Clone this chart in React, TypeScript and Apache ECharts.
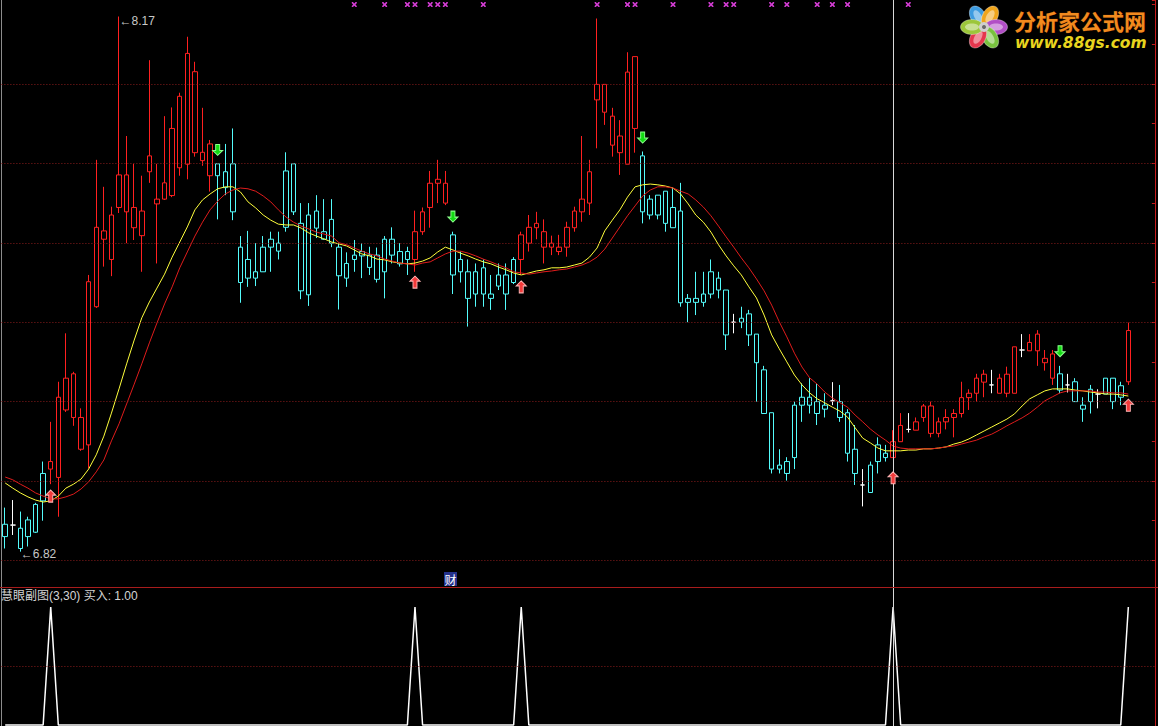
import React, { useEffect, useRef } from "react";
import * as echarts from "echarts";

// ---------------- data ----------------
const SLOT_COUNT = 152; // 149 trading days + 3 empty slots on the right
const categories = Array.from({ length: SLOT_COUNT }, (_, i) => `D${i + 1}`);

const opens = [
  6.860, 6.889, 6.881, 6.860, 6.871, 6.950, 7.030, 7.009, 7.179, 7.270,
  7.160, 7.091, 7.439, 7.630, 7.558, 7.689, 7.771, 7.638, 7.680, 7.819,
  7.710, 7.710, 7.719, 7.969, 7.798, 8.031, 7.828, 7.849, 7.769, 7.779,
  7.799, 7.589, 7.511, 7.527, 7.527, 7.609, 7.579, 7.639, 7.799, 7.649,
  7.469, 7.680, 7.609, 7.599, 7.589, 7.511, 7.558, 7.567, 7.538, 7.569,
  7.527, 7.609, 7.547, 7.578, 7.558, 7.628, 7.689, 7.760, 7.750, 7.620,
  7.527, 7.527, 7.471, 7.537, 7.471, 7.491, 7.519, 7.500, 7.558, 7.599,
  7.638, 7.628, 7.589, 7.578, 7.589, 7.638, 7.678, 7.700, 7.960, 7.999,
  7.919, 7.869, 7.798, 8.069, 7.819, 7.710, 7.670, 7.730, 7.638, 7.680,
  7.450, 7.450, 7.450, 7.471, 7.511, 7.481, 7.400, 7.400, 7.421, 7.370,
  7.280, 7.172, 7.030, 7.049, 7.059, 7.191, 7.211, 7.200, 7.181, 7.202,
  7.200, 7.172, 7.080, 6.990, 6.971, 7.049, 7.070, 7.059, 7.099, 7.130,
  7.128, 7.160, 7.189, 7.120, 7.149, 7.160, 7.170, 7.210, 7.221, 7.269,
  7.242, 7.221, 7.269, 7.221, 7.330, 7.328, 7.370, 7.298, 7.320, 7.270,
  7.242, 7.250, 7.181, 7.200, 7.219, 7.219, 7.259, 7.211, 7.250,
];
const closes = [
  6.891, 6.889, 6.830, 6.902, 6.941, 7.019, 7.049, 7.211, 7.259, 7.160,
  7.080, 7.502, 7.639, 7.609, 7.670, 7.771, 7.678, 7.689, 7.618, 7.779,
  7.698, 7.751, 7.888, 7.789, 8.077, 7.827, 7.807, 7.769, 7.799, 7.739,
  7.678, 7.500, 7.558, 7.511, 7.589, 7.589, 7.599, 7.781, 7.678, 7.479,
  7.670, 7.637, 7.628, 7.659, 7.517, 7.548, 7.569, 7.578, 7.569, 7.508,
  7.609, 7.569, 7.578, 7.558, 7.628, 7.678, 7.750, 7.750, 7.700, 7.519,
  7.558, 7.460, 7.527, 7.471, 7.460, 7.519, 7.471, 7.558, 7.620, 7.639,
  7.649, 7.589, 7.599, 7.589, 7.639, 7.680, 7.710, 7.779, 7.999, 7.929,
  7.846, 7.827, 8.030, 7.888, 7.678, 7.670, 7.720, 7.649, 7.689, 7.449,
  7.460, 7.460, 7.471, 7.527, 7.481, 7.368, 7.400, 7.410, 7.368, 7.298,
  7.170, 7.030, 7.040, 7.019, 7.191, 7.211, 7.191, 7.170, 7.191, 7.202,
  7.160, 7.070, 7.019, 6.990, 7.040, 7.091, 7.059, 7.099, 7.140, 7.130,
  7.149, 7.189, 7.120, 7.149, 7.160, 7.170, 7.210, 7.221, 7.259, 7.249,
  7.242, 7.259, 7.221, 7.338, 7.330, 7.349, 7.328, 7.309, 7.259, 7.229,
  7.242, 7.200, 7.191, 7.231, 7.219, 7.259, 7.200, 7.240, 7.379,
];
const highs = [
  6.933, 6.952, 6.923, 6.910, 6.945, 7.049, 7.149, 7.250, 7.372, 7.275,
  7.183, 7.519, 7.809, 7.741, 7.691, 8.170, 7.869, 7.799, 7.769, 8.060,
  7.799, 7.919, 7.941, 7.978, 8.119, 8.056, 7.940, 7.859, 7.799, 7.849,
  7.888, 7.617, 7.630, 7.599, 7.617, 7.628, 7.628, 7.828, 7.799, 7.700,
  7.700, 7.720, 7.710, 7.710, 7.599, 7.576, 7.607, 7.599, 7.590, 7.588,
  7.617, 7.639, 7.599, 7.590, 7.681, 7.689, 7.781, 7.809, 7.781, 7.628,
  7.578, 7.558, 7.548, 7.558, 7.519, 7.548, 7.548, 7.564, 7.628, 7.670,
  7.678, 7.659, 7.618, 7.620, 7.653, 7.691, 7.869, 7.809, 8.165, 8.000,
  7.940, 7.909, 8.080, 8.069, 7.830, 7.720, 7.720, 7.730, 7.739, 7.751,
  7.471, 7.527, 7.527, 7.558, 7.527, 7.481, 7.421, 7.439, 7.431, 7.370,
  7.290, 7.172, 7.080, 7.060, 7.200, 7.246, 7.259, 7.246, 7.221, 7.249,
  7.242, 7.181, 7.141, 7.030, 7.049, 7.110, 7.091, 7.128, 7.171, 7.171,
  7.160, 7.194, 7.200, 7.160, 7.181, 7.181, 7.250, 7.231, 7.270, 7.280,
  7.280, 7.270, 7.288, 7.338, 7.370, 7.370, 7.380, 7.330, 7.330, 7.290,
  7.270, 7.259, 7.211, 7.242, 7.231, 7.259, 7.259, 7.250, 7.399,
];
const lows = [
  6.830, 6.864, 6.822, 6.835, 6.869, 6.900, 6.992, 6.910, 7.174, 7.139,
  7.076, 7.032, 7.436, 7.540, 7.516, 7.675, 7.599, 7.607, 7.527, 7.751,
  7.548, 7.708, 7.715, 7.769, 7.760, 7.817, 7.794, 7.729, 7.659, 7.720,
  7.657, 7.449, 7.489, 7.491, 7.527, 7.527, 7.558, 7.628, 7.670, 7.458,
  7.441, 7.612, 7.607, 7.589, 7.432, 7.489, 7.527, 7.511, 7.519, 7.500,
  7.460, 7.548, 7.540, 7.519, 7.527, 7.620, 7.638, 7.700, 7.695, 7.471,
  7.500, 7.389, 7.439, 7.439, 7.431, 7.481, 7.431, 7.496, 7.519, 7.578,
  7.609, 7.548, 7.569, 7.569, 7.565, 7.628, 7.653, 7.670, 7.838, 7.897,
  7.817, 7.771, 7.798, 7.827, 7.649, 7.659, 7.659, 7.628, 7.638, 7.439,
  7.400, 7.418, 7.439, 7.460, 7.460, 7.330, 7.372, 7.385, 7.340, 7.200,
  7.170, 7.019, 7.019, 7.001, 7.030, 7.149, 7.170, 7.141, 7.160, 7.191,
  7.149, 7.049, 6.990, 6.936, 6.971, 7.019, 7.049, 7.059, 7.099, 7.122,
  7.128, 7.149, 7.110, 7.110, 7.130, 7.110, 7.160, 7.179, 7.200, 7.211,
  7.221, 7.221, 7.211, 7.221, 7.312, 7.328, 7.290, 7.278, 7.242, 7.221,
  7.223, 7.200, 7.149, 7.170, 7.183, 7.219, 7.181, 7.191, 7.242,
];
// candle colour regime: r = red, c = cyan, w = white (doji)
const regime = (
  "cwccccrrrr" + "rrrrrrrrrr" + "rrrrrrrrcc" + "cccccccccc" + "cccccccccc" +
  "ccccrrrrrc" + "ccccccccrr" + "rrrrrrrrrr" + "rrrrcccccc" + "ccccccwccc" +
  "cccccccccw" + "cccwcccrrw" + "rrrrrrrrrr" + "wrrrwrrrrc" + "wcccwcccr"
).split("");

const yellowLine = [
  6.995, 6.982, 6.970, 6.960, 6.952, 6.947, 6.950, 6.962, 6.982, 6.992,
  7.005, 7.030, 7.066, 7.113, 7.171, 7.232, 7.295, 7.355, 7.411, 7.451,
  7.486, 7.521, 7.564, 7.602, 7.640, 7.683, 7.708, 7.723, 7.736, 7.741,
  7.741, 7.728, 7.703, 7.688, 7.670, 7.657, 7.647, 7.645, 7.645, 7.637,
  7.625, 7.617, 7.610, 7.602, 7.597, 7.592, 7.582, 7.572, 7.567, 7.559,
  7.557, 7.552, 7.549, 7.547, 7.549, 7.554, 7.562, 7.577, 7.589, 7.582,
  7.574, 7.567, 7.559, 7.552, 7.547, 7.539, 7.532, 7.524, 7.519, 7.524,
  7.529, 7.532, 7.537, 7.537, 7.539, 7.544, 7.549, 7.564, 7.587, 7.630,
  7.657, 7.683, 7.715, 7.741, 7.746, 7.748, 7.746, 7.743, 7.738, 7.723,
  7.698, 7.670, 7.652, 7.627, 7.595, 7.567, 7.542, 7.519, 7.489, 7.461,
  7.418, 7.368, 7.333, 7.300, 7.267, 7.242, 7.222, 7.207, 7.197, 7.186,
  7.176, 7.161, 7.134, 7.108, 7.096, 7.083, 7.076, 7.076, 7.076, 7.078,
  7.078, 7.081, 7.081, 7.083, 7.086, 7.093, 7.098, 7.106, 7.116, 7.126,
  7.136, 7.146, 7.156, 7.169, 7.189, 7.207, 7.217, 7.227, 7.232, 7.232,
  7.232, 7.229, 7.227, 7.224, 7.222, 7.219, 7.219, 7.217, 7.214,
];
const redLine = [
  7.010, 7.003, 6.992, 6.982, 6.970, 6.962, 6.955, 6.955, 6.960, 6.967,
  6.980, 6.998, 7.023, 7.053, 7.101, 7.144, 7.194, 7.244, 7.295, 7.348,
  7.398, 7.446, 7.489, 7.537, 7.577, 7.617, 7.652, 7.683, 7.705, 7.723,
  7.733, 7.738, 7.736, 7.730, 7.718, 7.703, 7.683, 7.665, 7.652, 7.642,
  7.635, 7.627, 7.622, 7.617, 7.600, 7.595, 7.587, 7.579, 7.572, 7.567,
  7.559, 7.554, 7.549, 7.547, 7.544, 7.549, 7.552, 7.562, 7.572, 7.579,
  7.579, 7.574, 7.567, 7.559, 7.552, 7.544, 7.537, 7.527, 7.524, 7.521,
  7.524, 7.527, 7.529, 7.532, 7.534, 7.539, 7.544, 7.552, 7.564, 7.584,
  7.612, 7.640, 7.668, 7.693, 7.718, 7.733, 7.741, 7.741, 7.738, 7.730,
  7.723, 7.708, 7.690, 7.668, 7.642, 7.615, 7.589, 7.562, 7.537, 7.509,
  7.479, 7.443, 7.401, 7.363, 7.322, 7.287, 7.260, 7.244, 7.224, 7.209,
  7.197, 7.186, 7.166, 7.149, 7.131, 7.116, 7.103, 7.088, 7.083, 7.081,
  7.081, 7.081, 7.081, 7.083, 7.086, 7.088, 7.093, 7.098, 7.103, 7.111,
  7.118, 7.128, 7.139, 7.149, 7.159, 7.171, 7.186, 7.202, 7.212, 7.222,
  7.227, 7.227, 7.227, 7.227, 7.224, 7.224, 7.222, 7.222, 7.219,
];

// buy signals (red up arrows + spikes in the lower panel)
const buyIndex = [6, 54, 68, 117, 148];
const buyArrowLevel = [6.962, 7.501, 7.489, 7.008, 7.191];
// sell signals (green down arrows)
const sellIndex = [28, 59, 84, 139];
const sellArrowLevel = [7.834, 7.666, 7.865, 7.327];
// magenta markers along the top edge
const markerIndex = [46, 50, 53, 54, 56, 57, 58, 63, 78, 82, 83, 88, 93, 95, 96, 101, 103, 107, 109, 111, 119];
const markerLevel = 8.2;

const gridLevels = [6.8, 7.0, 7.2, 7.4, 7.6, 7.8, 8.0];
const cursorIndex = 117;
const subTitle = "慧眼副图(3,30) 买入: 1.00";

// ---------------- styling ----------------
const RED = "#ff2020";
const CYAN = "#54fcfc";
const WHITE = "#ffffff";
const PRICE_MIN = 6.733;
const PRICE_MAX = 8.2116;

const UP_ARROW = "path://M5,0 L10,5 L7,5 L7,12 L3,12 L3,5 L0,5 Z";
const DOWN_ARROW = "path://M3,0 L7,0 L7,6 L10,6 L5,11 L0,6 L3,6 Z";
const X_MARK =
  "path://M0,0 L1.2,0 L2.5,1.3 L3.8,0 L5,0 L5,1.2 L3.7,2.5 L5,3.8 L5,5 L3.8,5 L2.5,3.7 L1.2,5 L0,5 L0,3.8 L1.3,2.5 L0,1.2 Z";

function buildOption() {
  const candleData = opens.map((o, i) => {
    const k = regime[i];
    const col = k === "r" ? RED : k === "c" ? CYAN : WHITE;
    return {
      value: [o, closes[i], lows[i], highs[i]],
      itemStyle: {
        color: k === "w" ? WHITE : "#000000",
        color0: col,
        borderColor: col,
        borderColor0: col,
        borderWidth: 1,
      },
    };
  });

  let hiIdx = 0;
  let loIdx = 0;
  highs.forEach((h, i) => { if (h > highs[hiIdx]) hiIdx = i; });
  lows.forEach((l, i) => { if (l < lows[loIdx]) loIdx = i; });

  const signal = opens.map((_, i) => (buyIndex.includes(i) ? 1 : 0));

  const labelStyle = {
    color: "#c8c8c8",
    fontSize: 12,
    fontFamily: "'Liberation Sans', Arial, sans-serif",
  };

  const petals = [
    { a: -30, c: "#3d9be0" },
    { a: 30, c: "#f0a51c" },
    { a: 90, c: "#b24ec6" },
    { a: 150, c: "#78c23e" },
    { a: 210, c: "#e5364d" },
    { a: 270, c: "#9cc63a" },
  ];
  const petalEls: any[] = [];
  petals.forEach((p) => {
    const rot = (-p.a * Math.PI) / 180;
    petalEls.push({
      type: "ellipse",
      rotation: rot,
      shape: { cx: 0, cy: -12, rx: 7.5, ry: 11.5 },
      style: { fill: p.c, stroke: "rgba(255,255,255,0.35)", lineWidth: 1 },
    });
    petalEls.push({
      type: "ellipse",
      rotation: rot,
      shape: { cx: 0, cy: -12, rx: 3.5, ry: 7 },
      style: { fill: "rgba(255,255,255,0.45)" },
    });
  });
  petalEls.push({ type: "circle", shape: { cx: 0, cy: 0, r: 5 }, style: { fill: "#cfcfcf" } });
  petalEls.push({ type: "circle", shape: { cx: 0, cy: 0, r: 2 }, style: { fill: "#6a6a6a" } });

  return {
    animation: false,
    backgroundColor: "#000000",
    grid: [
      { left: 1.4, top: 0, width: 1153.5, height: 587 },
      { left: 1.4, top: 588, width: 1153.5, height: 138 },
    ],
    xAxis: [
      { type: "category", data: categories, gridIndex: 0, show: false },
      { type: "category", data: categories, gridIndex: 1, show: false },
    ],
    yAxis: [
      {
        type: "value", gridIndex: 0, min: PRICE_MIN, max: PRICE_MAX, position: "left",
        axisLine: { show: true, lineStyle: { color: "#8c8c8c" } },
        axisTick: { show: false }, axisLabel: { show: false }, splitLine: { show: false },
      },
      {
        type: "value", gridIndex: 0, min: PRICE_MIN, max: PRICE_MAX, position: "right", splitNumber: 15,
        axisLine: { show: true, lineStyle: { color: "#c41c1c" } },
        axisTick: { show: true, inside: true, length: 3, lineStyle: { color: "#c41c1c" } },
        axisLabel: { show: false }, splitLine: { show: false },
      },
      {
        type: "value", gridIndex: 1, min: -0.0085, max: 1.161, position: "left",
        axisLine: { show: true, lineStyle: { color: "#8c8c8c" } },
        axisTick: { show: false }, axisLabel: { show: false }, splitLine: { show: false },
      },
      {
        type: "value", gridIndex: 1, min: -0.0085, max: 1.161, position: "right",
        axisLine: { show: true, lineStyle: { color: "#c41c1c" } },
        axisTick: { show: false }, axisLabel: { show: false }, splitLine: { show: false },
      },
    ],
    series: [
      {
        type: "candlestick",
        xAxisIndex: 0,
        yAxisIndex: 0,
        barWidth: 5,
        data: candleData,
        silent: true,
        z: 3,
        markLine: {
          silent: true,
          symbol: ["none", "none"],
          label: { show: false },
          data: [
            ...gridLevels.map((v) => ({
              yAxis: v,
              lineStyle: { type: [1, 2], color: "#8a1c1c", width: 1 },
            })),
            { xAxis: cursorIndex, lineStyle: { type: "solid", color: "#d8d8d8", width: 1 } },
          ],
        },
        markPoint: {
          silent: true,
          symbol: "circle",
          symbolSize: 1,
          itemStyle: { color: "rgba(0,0,0,0)" },
          data: [
            {
              coord: [hiIdx, highs[hiIdx]],
              label: { show: true, position: "right", distance: 0, offset: [0, 4], formatter: "←" + highs[hiIdx].toFixed(2), ...labelStyle },
            },
            {
              coord: [loIdx, lows[loIdx]],
              label: { show: true, position: "right", distance: 0, offset: [0, 2], formatter: "←" + lows[loIdx].toFixed(2), ...labelStyle },
            },
          ],
        },
      },
      {
        type: "line", xAxisIndex: 0, yAxisIndex: 0, data: yellowLine, symbol: "none", silent: true, z: 4,
        lineStyle: { color: "#ffff3c", width: 1 },
      },
      {
        type: "line", xAxisIndex: 0, yAxisIndex: 0, data: redLine, symbol: "none", silent: true, z: 4,
        lineStyle: { color: "#e01c1c", width: 1 },
      },
      {
        type: "scatter", xAxisIndex: 0, yAxisIndex: 0, silent: true, z: 5,
        symbol: UP_ARROW, symbolSize: [10, 12],
        itemStyle: { color: "#f23a3a", borderColor: "#ffb4b4", borderWidth: 1, opacity: 1 },
        data: buyIndex.map((i, k) => [i, buyArrowLevel[k]]),
      },
      {
        type: "scatter", xAxisIndex: 0, yAxisIndex: 0, silent: true, z: 5,
        symbol: DOWN_ARROW, symbolSize: [10, 11],
        itemStyle: { color: "#12dc12", borderColor: "#8cff8c", borderWidth: 1, opacity: 1 },
        data: sellIndex.map((i, k) => [i, sellArrowLevel[k]]),
      },
      {
        type: "scatter", xAxisIndex: 0, yAxisIndex: 0, silent: true, z: 5,
        symbol: X_MARK, symbolSize: 5,
        itemStyle: { color: "#d23cd2", opacity: 1 },
        data: markerIndex.map((i) => [i, markerLevel]),
      },
      {
        type: "line", xAxisIndex: 1, yAxisIndex: 2, data: signal, symbol: "none", silent: true,
        clip: false,
        lineStyle: { color: "#ffffff", width: 1.5 },
        markLine: {
          silent: true,
          symbol: ["none", "none"],
          label: { show: false },
          data: [
            { yAxis: 0.5, lineStyle: { type: [1, 2], color: "#8a1c1c", width: 1 } },
            { xAxis: cursorIndex, lineStyle: { type: "solid", color: "#d8d8d8", width: 1 } },
          ],
        },
      },
    ],
    graphic: [
      {
        type: "line", silent: true, z: 10,
        shape: { x1: 0, y1: 587.5, x2: 1158, y2: 587.5 },
        style: { stroke: "#a81c1c", lineWidth: 1 },
      },
      {
        type: "text", silent: true, x: 1, y: 590, z: 10,
        style: {
          text: subTitle, fill: "#d4d4d4", fontSize: 12,
          fontFamily: "'Liberation Sans', 'Noto Sans CJK SC', sans-serif",
          verticalAlign: "top",
        },
      },
      {
        type: "group", x: 444, y: 572, silent: true, z: 10,
        children: [
          { type: "rect", shape: { x: 0, y: 0, width: 13, height: 14 }, style: { fill: "#23318c" } },
          {
            type: "text", x: 6.5, y: 7,
            style: {
              text: "财", fill: "#ffffff", fontSize: 12, fontFamily: "'Noto Sans CJK SC'",
              align: "center", verticalAlign: "middle",
            },
          },
        ],
      },
      { type: "group", x: 984, y: 27, silent: true, z: 10, children: petalEls },
      {
        type: "text", x: 1014, y: 9, silent: true, z: 10,
        style: {
          text: "分析家公式网", fontSize: 22, fontWeight: "bold",
          fontFamily: "'Noto Sans CJK SC'", verticalAlign: "top",
          fill: "#f28a1e",
          stroke: "#5a2400", lineWidth: 0.5,
        },
      },
      {
        type: "text", x: 1015, y: 35, silent: true, z: 10,
        style: {
          text: "www.88gs.com", fontSize: 15.5, fontWeight: "bold", fontStyle: "italic",
          fontFamily: "'DejaVu Sans'", verticalAlign: "top", fill: "#e8d41e",
        },
      },
    ],
  };
}

export default function App() {
  const ref = useRef<HTMLDivElement>(null);
  useEffect(() => {
    if (!ref.current) return;
    const chart = echarts.init(ref.current, null, { renderer: "svg" });
    chart.setOption(buildOption() as any);
    return () => chart.dispose();
  }, []);
  return (
    <div
      ref={ref}
      style={{ position: "fixed", left: 0, top: 0, width: 1158, height: 726, background: "#000" }}
    />
  );
}
